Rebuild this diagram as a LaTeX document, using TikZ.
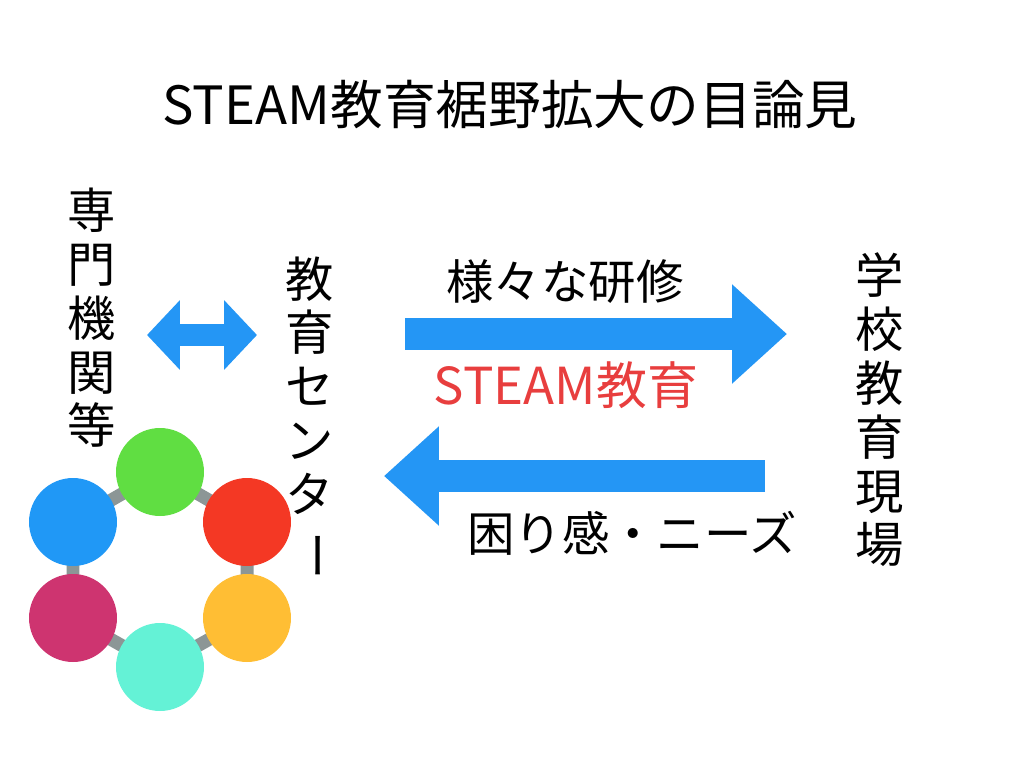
\documentclass[tikz,border=0pt]{standalone}
\usepackage{fontspec}
\setmainfont{Noto Sans CJK JP}
\usepackage{tikz}
\usetikzlibrary{arrows.meta,backgrounds}
\definecolor{arrowBlue}{RGB}{36,150,245}
\definecolor{steamRed}{RGB}{232,62,62}
\definecolor{linkGray}{RGB}{140,150,150}
\definecolor{dotGreen}{RGB}{96,222,66}
\definecolor{dotRed}{RGB}{244,56,36}
\definecolor{dotYellow}{RGB}{255,190,52}
\definecolor{dotCyan}{RGB}{100,242,214}
\definecolor{dotMagenta}{RGB}{206,52,112}
\definecolor{dotBlue}{RGB}{32,152,246}

\begin{document}
\begin{tikzpicture}[x=0.02cm, y=-0.02cm]%
  \tikzset{block arrow/.style={draw=arrowBlue, line width=0.64cm, -{Triangle[length=1.1cm,width=1.92cm]}}}
  \tikzset{both arrow/.style={draw=arrowBlue, line width=0.44cm, {Triangle[length=0.66cm,width=1.36cm]}-{Triangle[length=0.66cm,width=1.36cm]}}}
  \tikzstyle{every node}=[inner sep=0pt, outer sep=0pt, font=\fontsize{27}{29}\selectfont]
  \tikzstyle{vtext}=[align=center, font=\fontsize{27.5}{30.6}\selectfont]
  \tikzstyle{dot}=[circle, minimum size=1.76cm]
  \tikzstyle{link}=[draw=linkGray, line width=0.26cm]

  \useasboundingbox (0,0) rectangle (1018,772);

  \node[font=\fontsize{30}{33}\selectfont] at (510,105) (title) {STEAM教育裾野拡大の目論見};

  \node[vtext] at (92,318) (experts) {専\\門\\機\\関\\等};
  \node[vtext] at (310,418) (centre) {教\\育\\セ\\ン\\タ\\\rotatebox[origin=c]{-90}{ー}};
  \node[vtext] at (880,410) (school) {学\\校\\教\\育\\現\\場};

  \node at (565,282) (training) {様々な研修};
  \node[text=steamRed, font=\fontsize{29}{32}\selectfont] at (566,385) (steam) {STEAM教育};
  \node at (632,533) (needs) {困り感・ニーズ};

  \coordinate (l1) at (147,335);
  \coordinate (l2) at (257,335);
  \coordinate (r1) at (405,334);
  \coordinate (r2) at (787,334);
  \coordinate (b1) at (765,476);
  \coordinate (b2) at (384,476);

  \draw[both arrow] (l1) -- (l2);
  \draw[block arrow] (r1) -- (r2);
  \draw[block arrow] (b1) -- (b2);

  \node[dot, fill=dotGreen] at (160,472) (G) {};
  \node[dot, fill=dotRed] at (247,522) (R) {};
  \node[dot, fill=dotYellow] at (247,618) (Y) {};
  \node[dot, fill=dotCyan] at (160,667) (C) {};
  \node[dot, fill=dotMagenta] at (73,618) (M) {};
  \node[dot, fill=dotBlue] at (73,522) (B) {};

  \begin{scope}[on background layer]
    \draw[link] (G.center) -- (R.center) -- (Y.center) -- (C.center) -- (M.center) -- (B.center) -- cycle;
  \end{scope}
\end{tikzpicture}
\end{document}
